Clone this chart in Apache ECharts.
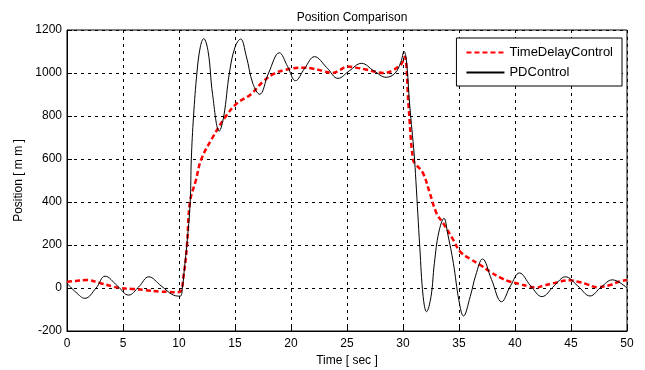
<!DOCTYPE html>
<html>
<head>
<meta charset="utf-8">
<script src="https://cdn.jsdelivr.net/npm/echarts@6/dist/echarts.min.js"></script>
<style>
  html, body { margin: 0; padding: 0; background: #fff; }
  #chart { width: 645px; height: 370px; }
</style>
</head>
<body>
<div id="chart"></div>
<script>
// sample times and positions (sec, mm)
const tdcTime = [0, 0.8, 1.75, 3.0, 4.0, 4.7, 6.0, 7.0, 8.3, 9.0, 9.6, 10.1, 10.4, 10.7, 10.98, 11.5, 12.0, 13.0, 14.2, 15.2, 16.4, 17.5, 18.6, 19.3, 20.2, 21.0, 22.0, 22.8, 23.7, 24.4, 25.0, 25.8, 26.8, 27.6, 28.3, 29.0, 29.6, 29.9, 30.15, 30.5, 30.9, 31.2, 31.8, 32.4, 33.0, 33.6, 34.5, 35.1, 36.0, 36.9, 37.8, 38.7, 39.5, 40.4, 41.2, 41.9, 42.6, 43.4, 44.9, 45.7, 46.4, 47.3, 48.5, 49.2, 50]
const tdcPos = [28, 33, 37, 22, 8, 0, -5, -10, -17, -18, -20, -17, 53, 190, 400, 500, 600, 700, 800, 860, 900, 960, 1000, 1012, 1022, 1025, 1020, 1010, 1000, 1015, 1030, 1025, 1015, 1005, 1000, 1010, 1030, 1045, 1076, 843, 595, 572, 533, 440, 347, 300, 223, 169, 135, 107, 75, 48, 30, 19, 8, 2, 12, 22, 36, 28, 18, 4, 14, 28, 37]

const pdTime = [0, 0.8, 1.6, 2.6, 3.4, 4.5, 5.5, 6.4, 7.3, 8.4, 9.5, 10.1, 10.3, 10.5, 10.7, 11.0, 11.1, 11.3, 11.6, 11.9, 12.2, 12.6, 13.0, 13.6, 14.0, 14.5, 15.0, 15.5, 16.0, 16.6, 17.2, 18.0, 18.96, 19.7, 20.4, 21.2, 22.1, 23.2, 24.2, 25.2, 26.3, 27.4, 28.5, 29.3, 29.8, 30.1, 30.3, 30.6, 31.0, 31.15, 31.5, 31.8, 32.1, 32.5, 32.8, 33.2, 33.66, 34.0, 34.5, 35.0, 35.4, 36.0, 36.5, 37.1, 37.9, 38.8, 39.6, 40.4, 41.4, 42.4, 43.5, 44.5, 45.6, 46.7, 47.7, 48.7, 50]
const pdPos = [22, -20, -48, 0, 55, 10, -33, 5, 52, 10, -33, -38, 0, 100, 200, 400, 600, 800, 1000, 1120, 1160, 1100, 900, 730, 800, 1000, 1120, 1158, 1080, 950, 901, 1000, 1094, 1030, 964, 1020, 1076, 1025, 975, 1010, 1045, 1010, 980, 1000, 1050, 1100, 1060, 850, 620, 500, 190, -40, -110, -40, 115, 260, 324, 250, 115, -60, -130, -40, 60, 135, 40, -64, 10, 70, 10, -40, 10, 52, 10, -37, 5, 38, 0]

const xTicks = [0, 50, 5]
const yTicks = [-200, 1200, 200]

const font = 'Liberation Sans, Arial, sans-serif'
const chart = echarts.init(document.getElementById('chart'))

const pair = (ts, vs) => ts.map((t, i) => [t, vs[i]])

const gridLine = {
  show: true,
  lineStyle: { color: '#000', type: [3, 4], width: 1 }
}

chart.setOption({
  animation: false,
  backgroundColor: '#fff',
  title: {
    text: 'Position Comparison',
    left: 347,
    top: 7,
    textAlign: 'center',
    textStyle: { fontFamily: font, fontSize: 12, fontWeight: 'normal', color: '#000' }
  },
  grid: {
    left: 67, right: 18, top: 30, bottom: 39,
    outerBoundsMode: 'none',
    show: true, borderColor: '#000', borderWidth: 1
  },
  legend: {
    orient: 'vertical',
    right: 23,
    top: 38,
    backgroundColor: '#fff',
    borderColor: '#000',
    borderWidth: 1,
    borderRadius: 0,
    padding: [8, 9, 7, 9],
    itemGap: 7,
    itemWidth: 38,
    itemHeight: 13,
    itemStyle: { opacity: 0 },
    textStyle: { fontFamily: font, fontSize: 13, color: '#000' },
    data: ['TimeDelayControl', 'PDControl']
  },
  xAxis: {
    type: 'value',
    min: xTicks[0], max: xTicks[1], interval: xTicks[2],
    name: 'Time [ sec ]',
    nameLocation: 'middle',
    nameGap: 24,
    nameTextStyle: { fontFamily: font, fontSize: 12, color: '#000' },
    axisLine: { show: true, onZero: false, lineStyle: { color: '#000' } },
    axisTick: { show: true, inside: true, length: 5, lineStyle: { color: '#000' } },
    axisLabel: { fontFamily: font, fontSize: 12, color: '#000', margin: 7 },
    splitLine: gridLine
  },
  yAxis: {
    type: 'value',
    min: yTicks[0], max: yTicks[1], interval: yTicks[2],
    name: 'Position [ m m ]',
    nameLocation: 'middle',
    nameGap: 42,
    nameTextStyle: { fontFamily: font, fontSize: 12, color: '#000' },
    axisLine: { show: true, lineStyle: { color: '#000' } },
    axisTick: { show: true, inside: true, length: 5, lineStyle: { color: '#000' } },
    axisLabel: { fontFamily: font, fontSize: 12, color: '#000', margin: 5, formatter: v => String(v) },
    splitLine: gridLine
  },
  series: [
    {
      name: 'TimeDelayControl',
      type: 'line',
      symbol: 'none',
      smooth: 0.4,
      lineStyle: { color: '#ff0000', width: 2.5, type: [5, 3] },
      itemStyle: { color: '#ff0000' },
      data: pair(tdcTime, tdcPos)
    },
    {
      name: 'PDControl',
      type: 'line',
      symbol: 'none',
      smooth: 0.4,
      lineStyle: { color: '#000', width: 1 },
      itemStyle: { color: '#000' },
      data: pair(pdTime, pdPos)
    }
  ]
})
</script>
</body>
</html>
